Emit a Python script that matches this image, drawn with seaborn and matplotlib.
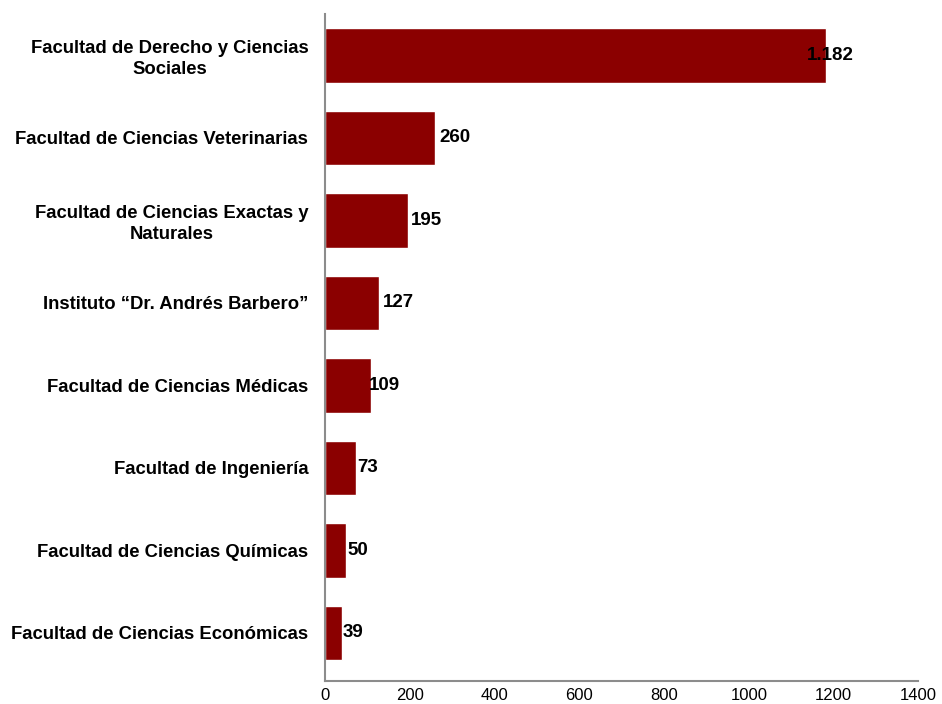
import pandas as pd
import matplotlib.pyplot as plt
import seaborn as sns

# Values
facultades = [
    'Facultad de Derecho y Ciencias\nSociales',
    'Facultad de Ciencias Veterinarias',
    'Facultad de Ciencias Exactas y\nNaturales',
    'Instituto “Dr. Andrés Barbero”',
    'Facultad de Ciencias Médicas',
    'Facultad de Ingeniería',
    'Facultad de Ciencias Químicas',
    'Facultad de Ciencias Económicas',
]
cantidad = [1182, 260, 195, 127, 109, 73, 50, 39]
etiquetas = ['1.182', '260', '195', '127', '109', '73', '50', '39']
x_ticks = [0, 200, 400, 600, 800, 1000, 1200, 1400]

df = pd.DataFrame({'facultad': facultades, 'cantidad': cantidad})

sns.set_style('white')
plt.rcParams['font.family'] = ['Liberation Sans', 'DejaVu Sans']

fig, ax = plt.subplots(figsize=(9.42, 7.04), dpi=100)
fig.subplots_adjust(left=0.345, right=0.975, top=0.98, bottom=0.033)

sns.barplot(data=df, x='cantidad', y='facultad', orient='h',
            color='#8B0000', saturation=1, width=0.66, ax=ax)

# value labels at the bar ends (the first one overlaps the bar, as in the original)
offsets = [-14, 3, 2, 3, -2, 1, 1, 1]
for i, (v, lab) in enumerate(zip(cantidad, etiquetas)):
    ax.annotate(lab, xy=(v, i), xytext=(offsets[i], 0), textcoords='offset points',
                ha='left', va='center', fontsize=13.5, fontweight='bold', color='black')

ax.set_xlim(0, 1400)
ax.set_ylim(7.58, -0.5)
ax.set_xticks(x_ticks)
ax.set_xticklabels([str(t) for t in x_ticks], fontsize=12, color='black')
ax.set_xlabel('')
ax.set_ylabel('')
for lab in ax.get_yticklabels():
    lab.set_fontsize(13.3)
    lab.set_fontweight('bold')
    lab.set_color('black')
    lab.set_multialignment('center')
    lab.set_linespacing(1.25)
ax.tick_params(axis='both', length=0)
ax.tick_params(axis='x', pad=5)
ax.tick_params(axis='y', pad=12)

sns.despine(ax=ax, top=True, right=True)
for side in ['left', 'bottom']:
    ax.spines[side].set_color('#8c8c8c')
    ax.spines[side].set_linewidth(1.5)

plt.savefig('out.png', dpi=100)
